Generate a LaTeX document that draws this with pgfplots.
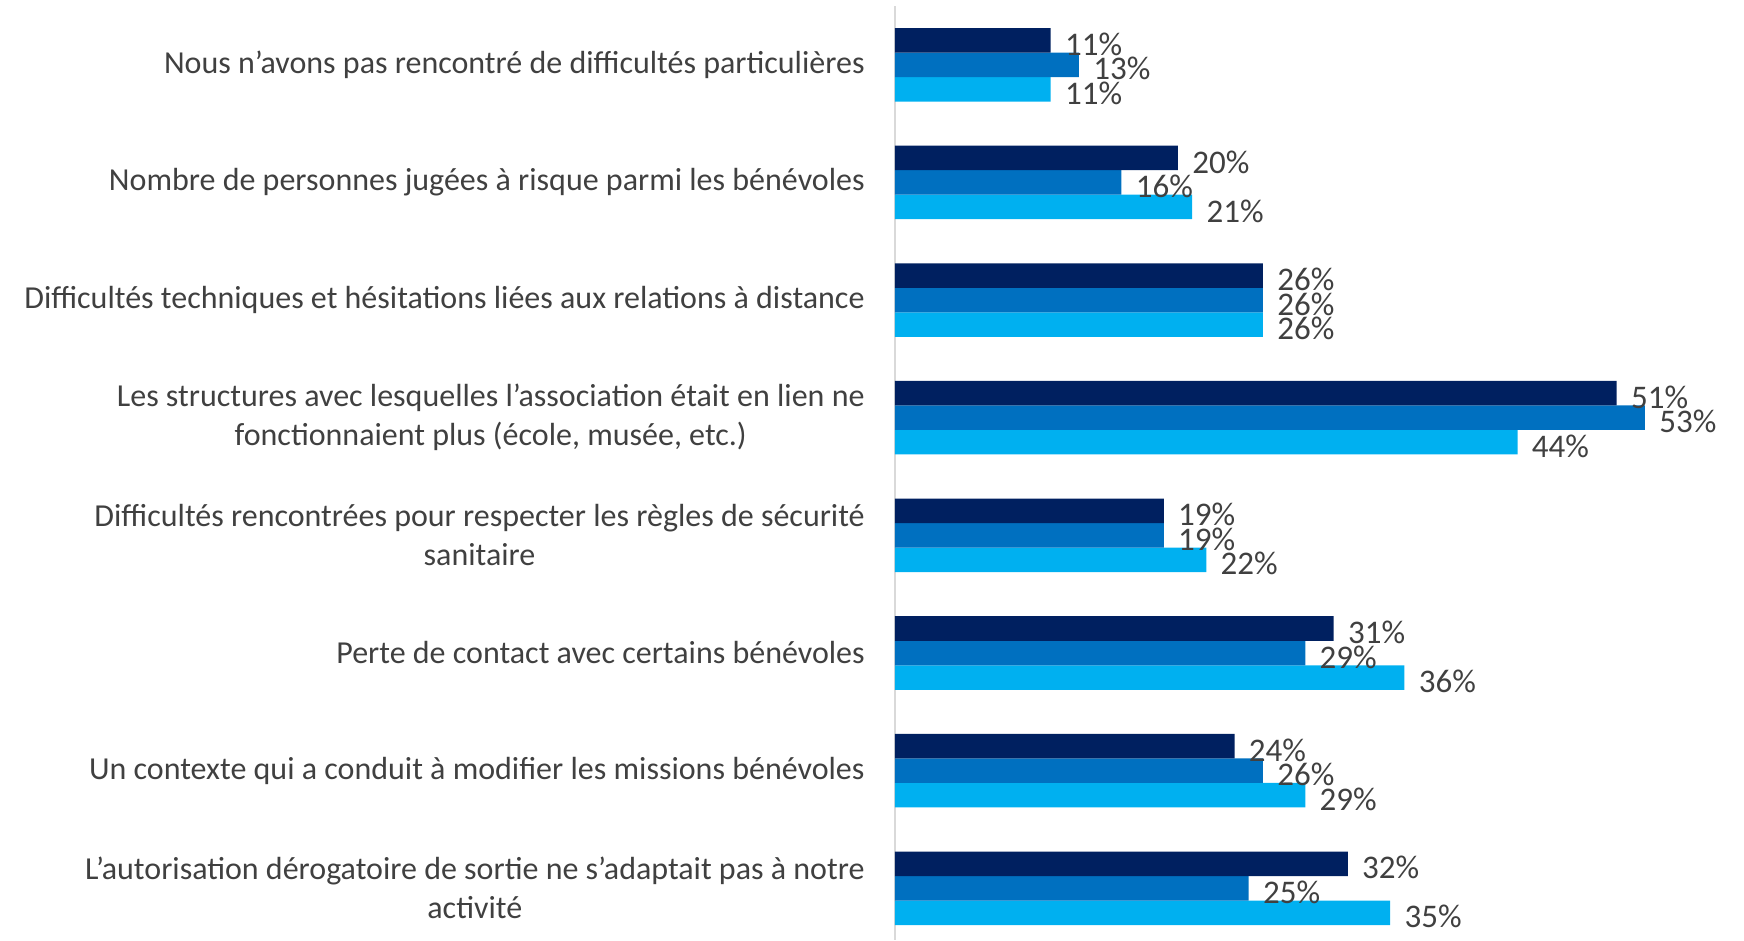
\documentclass[border=0pt]{standalone}
\usepackage{pgfplots}
\pgfplotsset{compat=1.18}
\usepackage{fontspec}
\setmainfont{Carlito}
\definecolor{navy}{HTML}{002060}
\definecolor{midblue}{HTML}{0070C0}
\definecolor{skyblue}{HTML}{00B0F0}
\definecolor{txt}{HTML}{404040}
\begin{document}
\begin{tikzpicture}
\begin{axis}[
    scale only axis,
    width=424.5pt, height=467pt,
    xbar=0pt, bar width=12.25pt,
    xmin=0, xmax=60,
    ymin=-0.5, ymax=7.44,
    y dir=reverse,
    clip=false,
    hide x axis,
    axis y line*=left,
    y axis line style={draw=gray!30, line width=0.8pt, -},
    major tick length=0pt,
    /pgf/number format/assume math mode=true,
    ytick={0,...,7},
    yticklabels={
        {Nous n’avons pas rencontré de difficultés particulières},
        {Nombre de personnes jugées à risque parmi les bénévoles},
        {Difficultés techniques et hésitations liées aux relations à distance},
        {Les structures avec lesquelles l’association était en lien ne\\fonctionnaient plus (école, musée, etc.)},
        {Difficultés rencontrées pour respecter les règles de sécurité\\sanitaire},
        {Perte de contact avec certains bénévoles},
        {Un contexte qui a conduit à modifier les missions bénévoles},
        {L’autorisation dérogatoire de sortie ne s’adaptait pas à notre\\activité}
    },
    yticklabel style={font=\fontsize{16}{19.5}\selectfont, text=txt, align=center, inner sep=0pt, xshift=-15pt},
    nodes near coords={\pgfmathprintnumber{\pgfplotspointmeta}\%},
    every node near coord/.append style={font=\fontsize{16.5}{19}\selectfont, text=txt, anchor=west, inner sep=0pt, xshift=7pt, yshift=-2pt},
]
% plotted bottom-to-top within each group: light, medium, dark
\addplot[draw=none, fill=skyblue] coordinates {
(11,0) (21,1) (26,2) (44,3) (22,4) (36,5) (29,6) (35,7)
};
\addplot[draw=none, fill=midblue] coordinates {
(13,0) (16,1) (26,2) (53,3) (19,4) (29,5) (26,6) (25,7)
};
\addplot[draw=none, fill=navy] coordinates {
(11,0) (20,1) (26,2) (51,3) (19,4) (31,5) (24,6) (32,7)
};
\end{axis}
\path (current axis.north west) ++(-447.5pt,3pt) coordinate (bbtl);
\path (current axis.south east) coordinate (bbbr);
\path (bbtl) rectangle (bbbr);
\end{tikzpicture}
\end{document}
